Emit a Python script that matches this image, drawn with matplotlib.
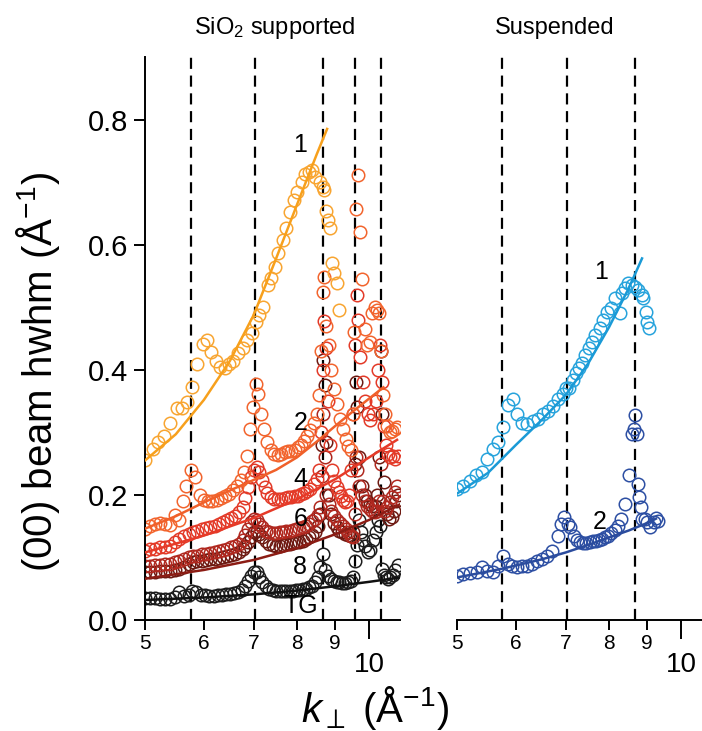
import matplotlib
matplotlib.use("Agg")
import matplotlib.pyplot as plt
from matplotlib.ticker import FixedLocator, FixedFormatter

plt.rcParams['font.family'] = ['Liberation Sans', 'DejaVu Sans']
plt.rcParams['mathtext.fontset'] = 'custom'
plt.rcParams['mathtext.rm'] = 'Liberation Sans'
plt.rcParams['mathtext.it'] = 'Liberation Sans:italic'

# ---- SiO2 supported (left) ----
k1 = [5.00, 5.12, 5.21, 5.31, 5.41, 5.52, 5.60, 5.69, 5.78, 5.88, 5.98, 6.05, 6.13, 6.23, 6.30,
      6.40, 6.49, 6.57, 6.67, 6.77, 6.85, 6.95, 7.04, 7.11, 7.20, 7.31, 7.38, 7.47, 7.55, 7.66,
      7.74, 7.82, 7.93, 8.00, 8.12, 8.20, 8.31, 8.39, 8.47, 8.59, 8.68, 8.70, 8.74, 8.80, 8.87,
      8.92, 8.96, 9.04, 9.10]
w1 = [0.256, 0.274, 0.285, 0.294, 0.315, 0.339, 0.339, 0.348, 0.372, 0.410, 0.441, 0.447, 0.428,
      0.414, 0.405, 0.403, 0.409, 0.414, 0.427, 0.435, 0.448, 0.458, 0.477, 0.488, 0.501, 0.535,
      0.546, 0.565, 0.586, 0.607, 0.627, 0.652, 0.671, 0.684, 0.700, 0.713, 0.716, 0.719, 0.708,
      0.700, 0.692, 0.688, 0.654, 0.639, 0.626, 0.571, 0.555, 0.538, 0.496]

k2 = [5.00, 5.08, 5.16, 5.24, 5.32, 5.40, 5.48, 5.56, 5.62, 5.68, 5.76, 5.84, 5.92, 6.00, 6.08,
      6.16, 6.24, 6.32, 6.40, 6.48, 6.56, 6.64, 6.72, 6.80, 6.86, 6.92, 6.98, 7.04, 7.10, 7.16,
      7.22, 7.30, 7.38, 7.46, 7.54, 7.62, 7.70, 7.78, 7.86, 7.94, 8.02, 8.10, 8.18, 8.26, 8.34,
      8.42, 8.50, 8.56, 8.62, 8.66, 8.70, 8.76, 8.82, 8.90, 8.98, 9.06, 9.14, 9.22, 9.30, 9.38,
      9.44, 9.50, 9.55, 9.60, 9.66, 9.72, 9.78, 9.86, 9.94, 10.02, 10.10, 10.18, 10.26, 10.32,
      10.38, 10.44, 10.50, 10.58, 10.66, 10.74, 10.82, 10.90]
w2 = [0.146, 0.150, 0.153, 0.155, 0.154, 0.152, 0.168, 0.160, 0.190, 0.214, 0.240, 0.228, 0.200,
      0.192, 0.190, 0.191, 0.192, 0.195, 0.198, 0.202, 0.208, 0.214, 0.224, 0.236, 0.262, 0.306,
      0.340, 0.378, 0.362, 0.330, 0.306, 0.285, 0.272, 0.266, 0.264, 0.266, 0.268, 0.270, 0.270,
      0.272, 0.276, 0.280, 0.286, 0.294, 0.303, 0.315, 0.330, 0.360, 0.430, 0.525, 0.548, 0.470,
      0.440, 0.400, 0.370, 0.345, 0.322, 0.305, 0.290, 0.278, 0.272, 0.330, 0.460, 0.657, 0.712,
      0.620, 0.545, 0.465, 0.440, 0.445, 0.490, 0.500, 0.495, 0.490, 0.430, 0.360, 0.330, 0.310,
      0.300, 0.302, 0.306, 0.308]

k4 = [5.00, 5.08, 5.16, 5.24, 5.32, 5.40, 5.48, 5.56, 5.64, 5.72, 5.80, 5.88, 5.96, 6.04, 6.12,
      6.20, 6.28, 6.36, 6.44, 6.52, 6.60, 6.68, 6.76, 6.82, 6.88, 6.94, 7.00, 7.06, 7.12, 7.18,
      7.24, 7.30, 7.38, 7.46, 7.54, 7.62, 7.70, 7.78, 7.86, 7.94, 8.02, 8.10, 8.18, 8.26, 8.34,
      8.42, 8.50, 8.56, 8.62, 8.66, 8.70, 8.74, 8.80, 8.86, 8.92, 8.98, 9.04, 9.10, 9.16, 9.22,
      9.28, 9.34, 9.40, 9.46, 9.52, 9.58, 9.62, 9.66, 9.72, 9.80, 9.88, 9.96, 10.04, 10.12, 10.20,
      10.28, 10.34, 10.40, 10.46, 10.52, 10.60, 10.68, 10.76, 10.84, 10.92]
w4 = [0.111, 0.113, 0.114, 0.116, 0.117, 0.119, 0.124, 0.130, 0.134, 0.138, 0.141, 0.143, 0.145,
      0.147, 0.149, 0.151, 0.154, 0.157, 0.160, 0.163, 0.167, 0.172, 0.180, 0.195, 0.212, 0.228,
      0.240, 0.244, 0.236, 0.224, 0.212, 0.203, 0.196, 0.193, 0.193, 0.194, 0.195, 0.196, 0.197,
      0.198, 0.199, 0.201, 0.203, 0.206, 0.210, 0.217, 0.226, 0.240, 0.300, 0.400, 0.478, 0.435,
      0.350, 0.280, 0.240, 0.222, 0.212, 0.205, 0.198, 0.192, 0.188, 0.190, 0.200, 0.240, 0.330,
      0.440, 0.520, 0.480, 0.420, 0.380, 0.350, 0.330, 0.320, 0.330, 0.350, 0.400, 0.440, 0.380,
      0.310, 0.280, 0.265, 0.260, 0.262, 0.258, 0.262]

k6 = [5.00, 5.08, 5.16, 5.24, 5.32, 5.40, 5.48, 5.56, 5.64, 5.72, 5.80, 5.88, 5.96, 6.04, 6.12,
      6.20, 6.28, 6.36, 6.44, 6.52, 6.60, 6.68, 6.76, 6.82, 6.88, 6.94, 7.00, 7.06, 7.12, 7.18,
      7.26, 7.34, 7.42, 7.50, 7.58, 7.66, 7.74, 7.82, 7.90, 7.98, 8.06, 8.14, 8.22, 8.30, 8.38,
      8.46, 8.54, 8.60, 8.64, 8.68, 8.72, 8.76, 8.82, 8.90, 8.98, 9.06, 9.14, 9.22, 9.30, 9.38,
      9.46, 9.52, 9.56, 9.60, 9.64, 9.70, 9.78, 9.86, 9.94, 10.02, 10.10, 10.18, 10.26, 10.32,
      10.38, 10.44, 10.50, 10.58, 10.66, 10.74, 10.82, 10.90]
w6 = [0.086, 0.087, 0.088, 0.088, 0.089, 0.090, 0.092, 0.094, 0.097, 0.100, 0.102, 0.103, 0.105,
      0.106, 0.107, 0.109, 0.110, 0.112, 0.114, 0.116, 0.119, 0.122, 0.128, 0.136, 0.146, 0.156,
      0.162, 0.160, 0.154, 0.148, 0.143, 0.140, 0.139, 0.139, 0.140, 0.141, 0.142, 0.143, 0.144,
      0.145, 0.147, 0.149, 0.151, 0.154, 0.158, 0.162, 0.168, 0.180, 0.230, 0.330, 0.260, 0.200,
      0.185, 0.175, 0.166, 0.160, 0.155, 0.150, 0.145, 0.140, 0.134, 0.132, 0.170, 0.260, 0.240,
      0.215, 0.200, 0.190, 0.183, 0.178, 0.174, 0.172, 0.175, 0.190, 0.250, 0.190, 0.175, 0.180,
      0.188, 0.196, 0.205, 0.215]

k8 = [5.00, 5.08, 5.16, 5.24, 5.32, 5.40, 5.48, 5.56, 5.64, 5.72, 5.80, 5.88, 5.96, 6.04, 6.12,
      6.20, 6.28, 6.36, 6.44, 6.52, 6.60, 6.68, 6.76, 6.82, 6.88, 6.94, 7.00, 7.06, 7.12, 7.18,
      7.26, 7.34, 7.42, 7.50, 7.58, 7.66, 7.74, 7.82, 7.90, 7.98, 8.06, 8.14, 8.22, 8.30, 8.38,
      8.46, 8.54, 8.60, 8.64, 8.68, 8.72, 8.76, 8.82, 8.88, 8.96, 9.04, 9.12, 9.20, 9.28, 9.36,
      9.44, 9.52, 9.56, 9.60, 9.64, 9.70, 9.78, 9.86, 9.94, 10.02, 10.10, 10.18, 10.26, 10.32,
      10.38, 10.42, 10.48, 10.56, 10.64, 10.72, 10.80, 10.88, 10.94]
w8 = [0.076, 0.077, 0.077, 0.078, 0.078, 0.079, 0.080, 0.082, 0.085, 0.090, 0.093, 0.094, 0.095,
      0.096, 0.097, 0.098, 0.099, 0.100, 0.102, 0.104, 0.106, 0.109, 0.113, 0.118, 0.125, 0.133,
      0.140, 0.142, 0.138, 0.132, 0.127, 0.122, 0.120, 0.119, 0.119, 0.120, 0.121, 0.122, 0.123,
      0.124, 0.125, 0.127, 0.129, 0.132, 0.136, 0.141, 0.150, 0.170, 0.280, 0.416, 0.376, 0.285,
      0.200, 0.170, 0.155, 0.148, 0.143, 0.140, 0.138, 0.136, 0.135, 0.140, 0.250, 0.380, 0.340,
      0.260, 0.215, 0.200, 0.190, 0.185, 0.182, 0.183, 0.200, 0.260, 0.430, 0.330, 0.220, 0.170,
      0.162, 0.165, 0.175, 0.190, 0.200]

kTG = [5.00, 5.08, 5.16, 5.24, 5.32, 5.40, 5.48, 5.56, 5.64, 5.72, 5.78, 5.86, 5.94, 6.02, 6.10,
       6.18, 6.26, 6.34, 6.42, 6.50, 6.58, 6.66, 6.74, 6.82, 6.88, 6.94, 7.00, 7.06, 7.12, 7.18,
       7.26, 7.34, 7.42, 7.50, 7.58, 7.66, 7.74, 7.82, 7.90, 7.98, 8.06, 8.14, 8.22, 8.30, 8.38,
       8.46, 8.54, 8.60, 8.66, 8.72, 8.80, 8.88, 8.96, 9.04, 9.12, 9.20, 9.28, 9.36, 9.44, 9.52,
       9.58, 9.64, 9.70, 9.76, 9.82, 9.88, 9.96, 10.04, 10.12, 10.20, 10.28, 10.34, 10.40, 10.46,
       10.52, 10.60, 10.68, 10.76, 10.84, 10.92]
wTG = [0.035, 0.035, 0.035, 0.034, 0.034, 0.033, 0.036, 0.045, 0.038, 0.040, 0.046, 0.044, 0.040,
       0.040, 0.039, 0.039, 0.040, 0.040, 0.041, 0.042, 0.043, 0.045, 0.048, 0.055, 0.062, 0.070,
       0.077, 0.076, 0.068, 0.060, 0.054, 0.050, 0.048, 0.047, 0.046, 0.046, 0.046, 0.047, 0.047,
       0.048, 0.048, 0.049, 0.050, 0.052, 0.055, 0.060, 0.068, 0.085, 0.105, 0.080, 0.070, 0.066,
       0.063, 0.061, 0.060, 0.059, 0.059, 0.060, 0.062, 0.068, 0.095, 0.120, 0.160, 0.140, 0.128,
       0.118, 0.108, 0.112, 0.128, 0.140, 0.160, 0.150, 0.082, 0.072, 0.068, 0.066, 0.068, 0.072,
       0.080, 0.088]

# fitted curves
fk1 = [5.0, 5.5, 6.0, 6.5, 7.0, 7.5, 8.0, 8.5, 8.78]
fw1 = [0.255, 0.297, 0.352, 0.414, 0.488, 0.578, 0.664, 0.744, 0.785]
fk2 = [5.0, 5.5, 6.0, 6.5, 7.0, 7.5, 8.0, 8.5, 9.0, 9.5, 10.0, 10.45]
fw2 = [0.146, 0.166, 0.188, 0.207, 0.224, 0.240, 0.260, 0.285, 0.310, 0.333, 0.354, 0.372]
fk4 = [5.0, 6.0, 7.0, 8.0, 9.0, 10.0, 10.9]
fw4 = [0.108, 0.135, 0.163, 0.193, 0.225, 0.260, 0.288]
fk8 = [5.0, 6.0, 7.0, 8.0, 9.0, 10.0, 11.0]
fw8 = [0.066, 0.080, 0.096, 0.115, 0.137, 0.160, 0.185]
fkTG = [5.0, 6.0, 7.0, 8.0, 9.0, 10.0, 11.0]
fwTG = [0.032, 0.036, 0.041, 0.047, 0.054, 0.061, 0.068]

# ---- Suspended (right) ----
ks1 = [5.00, 5.10, 5.20, 5.30, 5.40, 5.49, 5.59, 5.68, 5.76, 5.86, 5.95, 6.02, 6.11, 6.21, 6.33,
       6.43, 6.52, 6.62, 6.72, 6.83, 6.93, 7.01, 7.08, 7.15, 7.22, 7.29, 7.36, 7.43, 7.52, 7.58,
       7.66, 7.78, 7.86, 7.94, 8.06, 8.15, 8.28, 8.32, 8.40, 8.49, 8.58, 8.67, 8.76, 8.86, 8.90,
       8.97, 9.01, 9.06]
ws1 = [0.209, 0.215, 0.223, 0.231, 0.236, 0.257, 0.273, 0.285, 0.309, 0.344, 0.353, 0.329, 0.315,
       0.313, 0.318, 0.321, 0.329, 0.334, 0.342, 0.353, 0.361, 0.371, 0.371, 0.384, 0.395, 0.403,
       0.411, 0.424, 0.435, 0.445, 0.456, 0.466, 0.479, 0.493, 0.498, 0.514, 0.490, 0.522, 0.530,
       0.538, 0.535, 0.533, 0.527, 0.520, 0.514, 0.493, 0.477, 0.466]

ks2 = [5.00, 5.10, 5.21, 5.32, 5.40, 5.49, 5.59, 5.67, 5.77, 5.86, 5.93, 6.02, 6.11, 6.21, 6.31,
       6.40, 6.50, 6.61, 6.71, 6.83, 6.89, 6.96, 7.04, 7.10, 7.18, 7.25, 7.32, 7.39, 7.46, 7.54,
       7.61, 7.68, 7.76, 7.83, 7.91, 7.98, 8.06, 8.14, 8.22, 8.30, 8.40, 8.50, 8.58, 8.64, 8.68,
       8.71, 8.74, 8.78, 8.82, 8.86, 8.93, 9.01, 9.09, 9.18, 9.26, 9.32]
ws2 = [0.070, 0.073, 0.075, 0.077, 0.085, 0.078, 0.077, 0.087, 0.103, 0.090, 0.086, 0.085, 0.086,
       0.087, 0.090, 0.094, 0.098, 0.103, 0.111, 0.134, 0.154, 0.164, 0.154, 0.148, 0.135, 0.128,
       0.125, 0.123, 0.123, 0.125, 0.126, 0.127, 0.128, 0.130, 0.132, 0.135, 0.139, 0.144, 0.151,
       0.162, 0.186, 0.231, 0.297, 0.305, 0.328, 0.297, 0.218, 0.196, 0.180, 0.162, 0.162, 0.156,
       0.148, 0.156, 0.163, 0.158]

fks1 = [5.0, 5.5, 5.75, 6.0, 6.5, 7.0, 7.5, 8.0, 8.5, 8.86]
fws1 = [0.202, 0.235, 0.258, 0.280, 0.320, 0.360, 0.410, 0.468, 0.530, 0.578]
fks2 = [5.0, 5.75, 6.5, 7.0, 7.5, 8.0, 8.5, 9.0, 9.25]
fws2 = [0.068, 0.082, 0.097, 0.108, 0.120, 0.132, 0.143, 0.155, 0.162]

# resonance positions (dashed lines)
res_left = [5.77, 7.02, 8.68, 9.58, 10.38]
res_right = [5.75, 7.03, 8.68]

fig = plt.figure(figsize=(7.02, 7.31), dpi=100)
ax1 = fig.add_axes([145 / 702, 1 - 620 / 731, 255 / 702, 563 / 731])
ax2 = fig.add_axes([457 / 702, 1 - 620 / 731, 255 / 702, 563 / 731])

mk = dict(ls='none', marker='o', mfc='none', ms=9, mew=1.1)

for ax, res in ((ax1, res_left), (ax2, res_right)):
    for r in res:
        ax.axvline(r, color='black', lw=1.6, dashes=(5, 3), zorder=1)

ax1.plot(kTG, wTG, mec='#1c1c1c', **mk)
ax1.plot(k8, w8, mec='#6e1a12', **mk)
ax1.plot(k6, w6, mec='#b0281f', **mk)
ax1.plot(k4, w4, mec='#e33a28', **mk)
ax1.plot(k2, w2, mec='#f2642d', **mk)
ax1.plot(k1, w1, mec='#f8a531', **mk)

ax1.plot(fk1, fw1, color='#f7a01c', lw=1.8, zorder=5)
ax1.plot(fk2, fw2, color='#f0602a', lw=1.8, zorder=5)
ax1.plot(fk4, fw4, color='#e63a28', lw=1.8, zorder=5)
ax1.plot(fk8, fw8, color='#8c1c14', lw=1.8, zorder=5)
ax1.plot(fkTG, fwTG, color='#111111', lw=1.8, zorder=5)

ax2.plot(ks1, ws1, mec='#27a3dc', **mk)
ax2.plot(ks2, ws2, mec='#2d4fa3', **mk)
ax2.plot(fks1, fws1, color='#1a9ad6', lw=1.8, zorder=5)
ax2.plot(fks2, fws2, color='#2b4c9e', lw=1.8, zorder=5)

for txt, x, y in (('1', 8.08, 0.76), ('2', 8.08, 0.315), ('4', 8.08, 0.226),
                  ('6', 8.08, 0.162), ('8', 8.08, 0.084), ('TG', 8.1, 0.022)):
    ax1.text(x, y, txt, fontsize=18, ha='center', va='center', zorder=6)
for txt, x, y in (('1', 7.80, 0.557), ('2', 7.78, 0.156)):
    ax2.text(x, y, txt, fontsize=18, ha='center', va='center', zorder=6)

for ax in (ax1, ax2):
    ax.set_xscale('log')
    ax.set_xlim(5, 11)
    ax.set_ylim(0, 0.9)
    ax.xaxis.set_major_locator(FixedLocator([10]))
    ax.xaxis.set_major_formatter(FixedFormatter(['10']))
    ax.xaxis.set_minor_locator(FixedLocator([5, 6, 7, 8, 9]))
    ax.xaxis.set_minor_formatter(FixedFormatter(['5', '6', '7', '8', '9']))
    ax.tick_params(axis='x', which='minor', direction='out', length=7, width=1.4,
                   labelsize=15, pad=3)
    ax.tick_params(axis='x', which='major', direction='out', length=14, width=1.4,
                   labelsize=20, pad=9)
    ax.spines['top'].set_visible(False)
    ax.spines['right'].set_visible(False)
    ax.spines['bottom'].set_linewidth(1.4)
    ax.spines['left'].set_linewidth(1.4)
    ax.patch.set_alpha(0)

ax1.set_yticks([0.0, 0.2, 0.4, 0.6, 0.8])
ax1.set_yticklabels(['0.0', '0.2', '0.4', '0.6', '0.8'])
ax1.tick_params(axis='y', direction='out', length=8, width=1.4, labelsize=21, pad=4)

ax2.spines['left'].set_visible(False)
ax2.set_yticks([])

fig.text(275 / 702, 1 - 28 / 731, 'SiO$_2$ supported', fontsize=17, ha='center', va='center')
fig.text(555 / 702, 1 - 28 / 731, 'Suspended', fontsize=17, ha='center', va='center')
fig.text(38 / 702, 1 - 372 / 731, '(00) beam hwhm (Å$^{-1}$)', fontsize=29,
         rotation=90, ha='center', va='center')
fig.text(375 / 702, 1 - 708 / 731, '$k_{\\perp}$ (Å$^{-1}$)', fontsize=29,
         ha='center', va='center')

fig.savefig('out.png', dpi=100)
